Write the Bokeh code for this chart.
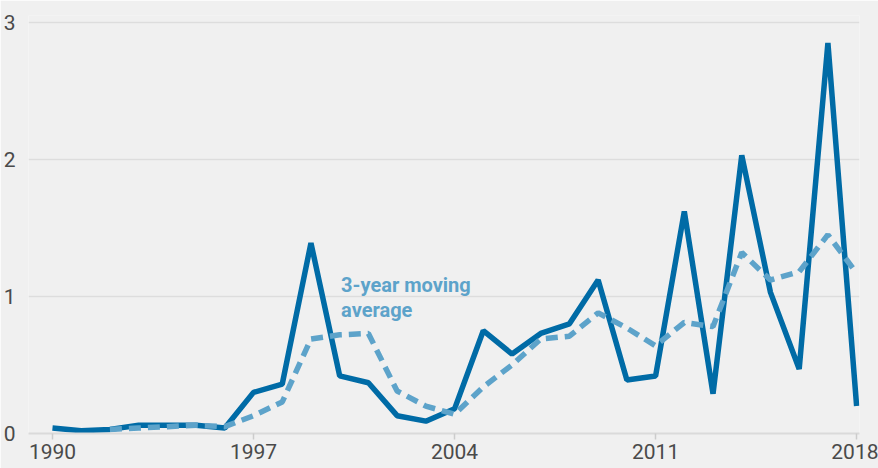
from bokeh.plotting import figure
from bokeh.models import FixedTicker, Label, Range1d
from bokeh.embed import file_html
from bokeh.resources import INLINE

years = list(range(1990, 2019))
values = [0.04, 0.02, 0.03, 0.06, 0.06, 0.06, 0.04, 0.30, 0.36, 1.39,
          0.42, 0.37, 0.13, 0.09, 0.18, 0.75, 0.58, 0.73, 0.80, 1.12,
          0.39, 0.42, 1.62, 0.29, 2.03, 1.03, 0.47, 2.85, 0.20]
ma_years = list(range(1992, 2019))
ma_values = [0.03, 0.04, 0.05, 0.06, 0.05, 0.13, 0.23, 0.69, 0.72, 0.73,
             0.31, 0.20, 0.14, 0.34, 0.50, 0.69, 0.71, 0.88, 0.77, 0.64,
             0.81, 0.78, 1.32, 1.12, 1.18, 1.45, 1.17]
x_ticks = [1990, 1997, 2004, 2011, 2018]
y_ticks = [0, 1, 2, 3]
annotation = ["3-year moving", "average"]

BG = "#f0f0f0"
p = figure(width=878, height=468, output_backend="svg", toolbar_location=None,
           x_range=Range1d(1989.165, 2018.1), y_range=Range1d(0, 3.05),
           background_fill_color=BG, border_fill_color=BG,
           min_border_left=27, min_border_right=19, min_border_top=15,
           min_border_bottom=35)
p.outline_line_color = None

p.line(years, values, line_color="#006BA6", line_width=5.5)
p.line(ma_years, ma_values, line_color="#5DA3CA", line_width=5.5, line_dash="12 7")

p.xaxis.ticker = FixedTicker(ticks=x_ticks)
p.yaxis.ticker = FixedTicker(ticks=y_ticks)
p.xgrid.grid_line_color = None
p.ygrid.grid_line_color = "#dddddd"
p.ygrid.grid_line_width = 1.5

for ax in (p.xaxis, p.yaxis):
    ax.major_label_text_font = "Roboto"
    ax.major_label_text_font_size = "21px"
    ax.major_label_text_color = "#4a4a4a"
    ax.minor_tick_line_color = None

p.yaxis.axis_line_color = None
p.yaxis.major_tick_line_color = None
p.yaxis.major_label_standoff = 7

p.xaxis.axis_line_color = "#dadada"
p.xaxis.axis_line_width = 2
p.xaxis.major_tick_line_color = "#cccccc"
p.xaxis.major_tick_line_width = 1.5
p.xaxis.major_tick_in = 0
p.xaxis.major_tick_out = 6
p.xaxis.major_label_standoff = 4

p.add_layout(Label(x=2000.05, y=1.085, text=annotation[0], text_font="Roboto",
                   text_font_style="bold", text_font_size="20px",
                   text_color="#5DA3CA", text_baseline="alphabetic"))
p.add_layout(Label(x=2000.05, y=0.90, text=annotation[1], text_font="Roboto",
                   text_font_style="bold", text_font_size="20px",
                   text_color="#5DA3CA", text_baseline="alphabetic"))

open("out.html", "w").write(file_html(p, INLINE))
